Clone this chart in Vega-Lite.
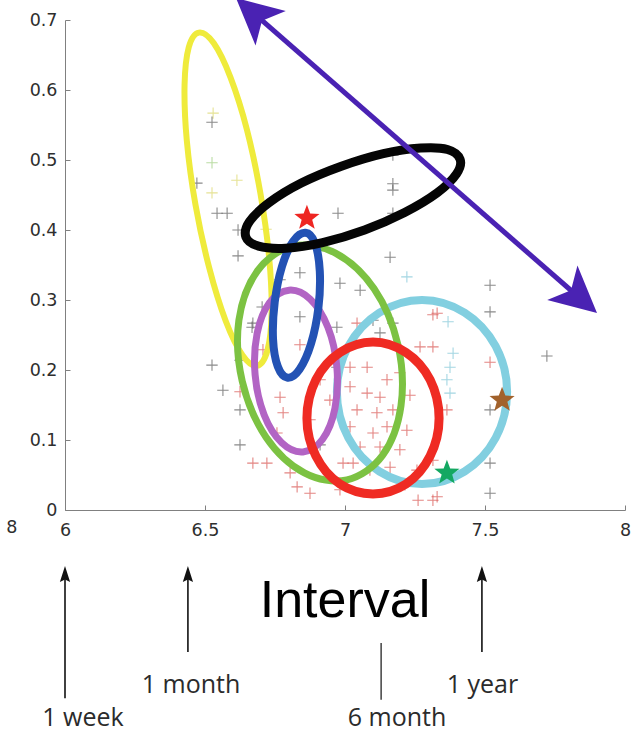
{
  "$schema": "https://vega.github.io/schema/vega-lite/v6.json",
  "autosize": {"type": "none"},
  "width": 560,
  "height": 490,
  "padding": {"left": 65, "top": 20, "right": 10, "bottom": 228},
  "background": "white",
  "config": {
    "view": {"stroke": null},
    "axis": {
      "grid": false,
      "title": null,
      "domainColor": "#808080",
      "tickColor": "#808080",
      "tickSize": -5,
      "labelFont": "DejaVu Sans",
      "labelFontSize": 17.5,
      "labelColor": "#2e2e2e",
      "labelPadding": 13,
      "format": "~g"
    },
    "axisX": {"labelPadding": 16}
  },
  "resolve": {"scale": {"color": "independent"}},
  "datasets": {
    "ellipses": [
      {"e": "yellow", "i": 0, "x": 6.686, "y": 0.206}, {"e": "yellow", "i": 1, "x": 6.723, "y": 0.228},
      {"e": "yellow", "i": 2, "x": 6.738, "y": 0.282}, {"e": "yellow", "i": 3, "x": 6.729, "y": 0.361},
      {"e": "yellow", "i": 4, "x": 6.698, "y": 0.452}, {"e": "yellow", "i": 5, "x": 6.650, "y": 0.543},
      {"e": "yellow", "i": 6, "x": 6.591, "y": 0.618}, {"e": "yellow", "i": 7, "x": 6.531, "y": 0.667},
      {"e": "yellow", "i": 8, "x": 6.478, "y": 0.682}, {"e": "yellow", "i": 9, "x": 6.442, "y": 0.661},
      {"e": "yellow", "i": 10, "x": 6.427, "y": 0.607}, {"e": "yellow", "i": 11, "x": 6.435, "y": 0.528},
      {"e": "yellow", "i": 12, "x": 6.466, "y": 0.436}, {"e": "yellow", "i": 13, "x": 6.515, "y": 0.346},
      {"e": "yellow", "i": 14, "x": 6.574, "y": 0.270}, {"e": "yellow", "i": 15, "x": 6.634, "y": 0.221},

      {"e": "cyan", "i": 0, "x": 7.579, "y": 0.169}, {"e": "cyan", "i": 1, "x": 7.538, "y": 0.234},
      {"e": "cyan", "i": 2, "x": 7.427, "y": 0.282}, {"e": "cyan", "i": 3, "x": 7.275, "y": 0.300},
      {"e": "cyan", "i": 4, "x": 7.123, "y": 0.282}, {"e": "cyan", "i": 5, "x": 7.012, "y": 0.234},
      {"e": "cyan", "i": 6, "x": 6.971, "y": 0.169}, {"e": "cyan", "i": 7, "x": 7.012, "y": 0.103},
      {"e": "cyan", "i": 8, "x": 7.123, "y": 0.055}, {"e": "cyan", "i": 9, "x": 7.275, "y": 0.037},
      {"e": "cyan", "i": 10, "x": 7.427, "y": 0.055}, {"e": "cyan", "i": 11, "x": 7.538, "y": 0.103},

      {"e": "purple", "i": 0, "x": 6.850, "y": 0.083}, {"e": "purple", "i": 1, "x": 6.920, "y": 0.101},
      {"e": "purple", "i": 2, "x": 6.964, "y": 0.145}, {"e": "purple", "i": 3, "x": 6.971, "y": 0.204},
      {"e": "purple", "i": 4, "x": 6.939, "y": 0.261}, {"e": "purple", "i": 5, "x": 6.876, "y": 0.301},
      {"e": "purple", "i": 6, "x": 6.800, "y": 0.314}, {"e": "purple", "i": 7, "x": 6.730, "y": 0.296},
      {"e": "purple", "i": 8, "x": 6.686, "y": 0.252}, {"e": "purple", "i": 9, "x": 6.679, "y": 0.193},
      {"e": "purple", "i": 10, "x": 6.711, "y": 0.136}, {"e": "purple", "i": 11, "x": 6.774, "y": 0.096},

      {"e": "green", "i": 0, "x": 7.007, "y": 0.043}, {"e": "green", "i": 1, "x": 7.134, "y": 0.078},
      {"e": "green", "i": 2, "x": 7.200, "y": 0.149}, {"e": "green", "i": 3, "x": 7.189, "y": 0.236},
      {"e": "green", "i": 4, "x": 7.104, "y": 0.316}, {"e": "green", "i": 5, "x": 6.966, "y": 0.367},
      {"e": "green", "i": 6, "x": 6.814, "y": 0.377}, {"e": "green", "i": 7, "x": 6.688, "y": 0.342},
      {"e": "green", "i": 8, "x": 6.621, "y": 0.271}, {"e": "green", "i": 9, "x": 6.633, "y": 0.184},
      {"e": "green", "i": 10, "x": 6.718, "y": 0.104}, {"e": "green", "i": 11, "x": 6.855, "y": 0.053},

      {"e": "blue", "i": 0, "x": 6.795, "y": 0.189}, {"e": "blue", "i": 1, "x": 6.838, "y": 0.201},
      {"e": "blue", "i": 2, "x": 6.879, "y": 0.238}, {"e": "blue", "i": 3, "x": 6.905, "y": 0.289},
      {"e": "blue", "i": 4, "x": 6.910, "y": 0.341}, {"e": "blue", "i": 5, "x": 6.893, "y": 0.381},
      {"e": "blue", "i": 6, "x": 6.859, "y": 0.396}, {"e": "blue", "i": 7, "x": 6.815, "y": 0.384},
      {"e": "blue", "i": 8, "x": 6.775, "y": 0.348}, {"e": "blue", "i": 9, "x": 6.749, "y": 0.297},
      {"e": "blue", "i": 10, "x": 6.743, "y": 0.244}, {"e": "blue", "i": 11, "x": 6.760, "y": 0.205},

      {"e": "red", "i": 0, "x": 7.336, "y": 0.131}, {"e": "red", "i": 1, "x": 7.304, "y": 0.186},
      {"e": "red", "i": 2, "x": 7.218, "y": 0.225}, {"e": "red", "i": 3, "x": 7.100, "y": 0.240},
      {"e": "red", "i": 4, "x": 6.982, "y": 0.225}, {"e": "red", "i": 5, "x": 6.896, "y": 0.186},
      {"e": "red", "i": 6, "x": 6.864, "y": 0.131}, {"e": "red", "i": 7, "x": 6.896, "y": 0.077},
      {"e": "red", "i": 8, "x": 6.982, "y": 0.037}, {"e": "red", "i": 9, "x": 7.100, "y": 0.023},
      {"e": "red", "i": 10, "x": 7.218, "y": 0.037}, {"e": "red", "i": 11, "x": 7.304, "y": 0.077},

      {"e": "black", "i": 0, "x": 7.411, "y": 0.501}, {"e": "black", "i": 1, "x": 7.398, "y": 0.480},
      {"e": "black", "i": 2, "x": 7.329, "y": 0.453}, {"e": "black", "i": 3, "x": 7.213, "y": 0.425},
      {"e": "black", "i": 4, "x": 7.070, "y": 0.400}, {"e": "black", "i": 5, "x": 6.920, "y": 0.382},
      {"e": "black", "i": 6, "x": 6.788, "y": 0.374}, {"e": "black", "i": 7, "x": 6.691, "y": 0.377},
      {"e": "black", "i": 8, "x": 6.646, "y": 0.390}, {"e": "black", "i": 9, "x": 6.659, "y": 0.412},
      {"e": "black", "i": 10, "x": 6.729, "y": 0.439}, {"e": "black", "i": 11, "x": 6.844, "y": 0.467},
      {"e": "black", "i": 12, "x": 6.987, "y": 0.491}, {"e": "black", "i": 13, "x": 7.137, "y": 0.509},
      {"e": "black", "i": 14, "x": 7.270, "y": 0.517}, {"e": "black", "i": 15, "x": 7.366, "y": 0.515}
    ],
    "samples": [
      {"x": 6.529, "y": 0.567, "c": "y"}, {"x": 6.525, "y": 0.554, "c": "k"}, {"x": 6.525, "y": 0.496, "c": "g"},
      {"x": 6.471, "y": 0.467, "c": "k"}, {"x": 6.614, "y": 0.471, "c": "y"}, {"x": 6.525, "y": 0.453, "c": "y"},
      {"x": 6.543, "y": 0.424, "c": "k"}, {"x": 6.579, "y": 0.424, "c": "k"}, {"x": 6.618, "y": 0.400, "c": "k"},
      {"x": 6.718, "y": 0.401, "c": "y"}, {"x": 6.975, "y": 0.424, "c": "k"}, {"x": 6.618, "y": 0.363, "c": "k"},
      {"x": 7.171, "y": 0.507, "c": "k"}, {"x": 7.171, "y": 0.466, "c": "k"}, {"x": 7.171, "y": 0.457, "c": "k"},
      {"x": 7.171, "y": 0.424, "c": "k"}, {"x": 7.161, "y": 0.361, "c": "k"}, {"x": 7.221, "y": 0.333, "c": "c"},
      {"x": 7.518, "y": 0.321, "c": "k"}, {"x": 7.329, "y": 0.281, "c": "r"}, {"x": 6.839, "y": 0.339, "c": "k"},
      {"x": 6.982, "y": 0.324, "c": "k"}, {"x": 6.768, "y": 0.329, "c": "k"}, {"x": 7.054, "y": 0.314, "c": "k"},
      {"x": 6.704, "y": 0.290, "c": "k"}, {"x": 6.671, "y": 0.267, "c": "k"}, {"x": 6.839, "y": 0.276, "c": "k"},
      {"x": 6.971, "y": 0.261, "c": "k"}, {"x": 7.043, "y": 0.267, "c": "r"}, {"x": 7.100, "y": 0.271, "c": "k"},
      {"x": 7.125, "y": 0.253, "c": "k"}, {"x": 7.171, "y": 0.267, "c": "k"}, {"x": 7.314, "y": 0.279, "c": "r"},
      {"x": 7.368, "y": 0.269, "c": "c"}, {"x": 7.268, "y": 0.233, "c": "r"}, {"x": 7.314, "y": 0.233, "c": "r"},
      {"x": 7.386, "y": 0.224, "c": "c"}, {"x": 7.375, "y": 0.204, "c": "c"}, {"x": 7.364, "y": 0.186, "c": "c"},
      {"x": 7.375, "y": 0.167, "c": "c"}, {"x": 7.364, "y": 0.143, "c": "r"}, {"x": 7.518, "y": 0.283, "c": "k"},
      {"x": 7.518, "y": 0.211, "c": "r"}, {"x": 7.518, "y": 0.143, "c": "k"}, {"x": 7.518, "y": 0.067, "c": "k"},
      {"x": 7.518, "y": 0.024, "c": "k"}, {"x": 7.721, "y": 0.220, "c": "k"}, {"x": 7.329, "y": 0.019, "c": "r"},
      {"x": 7.018, "y": 0.204, "c": "r"}, {"x": 7.079, "y": 0.204, "c": "r"}, {"x": 7.150, "y": 0.186, "c": "r"},
      {"x": 7.196, "y": 0.196, "c": "r"}, {"x": 7.018, "y": 0.176, "c": "r"}, {"x": 7.079, "y": 0.167, "c": "r"},
      {"x": 7.125, "y": 0.161, "c": "r"}, {"x": 7.043, "y": 0.143, "c": "r"}, {"x": 7.114, "y": 0.139, "c": "r"},
      {"x": 7.171, "y": 0.143, "c": "r"}, {"x": 7.018, "y": 0.119, "c": "r"}, {"x": 7.100, "y": 0.110, "c": "r"},
      {"x": 7.150, "y": 0.119, "c": "r"}, {"x": 7.221, "y": 0.114, "c": "r"}, {"x": 7.054, "y": 0.090, "c": "r"},
      {"x": 7.125, "y": 0.090, "c": "r"}, {"x": 7.196, "y": 0.086, "c": "r"}, {"x": 7.029, "y": 0.067, "c": "r"},
      {"x": 7.089, "y": 0.057, "c": "r"}, {"x": 7.161, "y": 0.061, "c": "r"}, {"x": 7.257, "y": 0.057, "c": "r"},
      {"x": 7.314, "y": 0.071, "c": "r"}, {"x": 6.946, "y": 0.157, "c": "r"}, {"x": 6.971, "y": 0.204, "c": "k"},
      {"x": 6.911, "y": 0.186, "c": "r"}, {"x": 7.232, "y": 0.164, "c": "r"}, {"x": 6.564, "y": 0.171, "c": "k"},
      {"x": 6.625, "y": 0.169, "c": "r"}, {"x": 6.625, "y": 0.214, "c": "k"}, {"x": 6.625, "y": 0.143, "c": "k"},
      {"x": 6.625, "y": 0.093, "c": "k"}, {"x": 6.671, "y": 0.067, "c": "r"}, {"x": 6.721, "y": 0.067, "c": "r"},
      {"x": 6.768, "y": 0.161, "c": "r"}, {"x": 6.779, "y": 0.139, "c": "r"}, {"x": 6.757, "y": 0.110, "c": "r"},
      {"x": 6.804, "y": 0.053, "c": "r"}, {"x": 6.829, "y": 0.033, "c": "r"}, {"x": 6.875, "y": 0.024, "c": "r"},
      {"x": 6.993, "y": 0.067, "c": "r"}, {"x": 7.314, "y": 0.014, "c": "r"}, {"x": 6.525, "y": 0.207, "c": "k"},
      {"x": 6.668, "y": 0.261, "c": "k"}, {"x": 6.707, "y": 0.229, "c": "r"}, {"x": 6.839, "y": 0.236, "c": "r"},
      {"x": 6.875, "y": 0.129, "c": "r"}, {"x": 6.911, "y": 0.093, "c": "k"}, {"x": 6.982, "y": 0.029, "c": "r"},
      {"x": 7.214, "y": 0.036, "c": "r"}, {"x": 7.261, "y": 0.014, "c": "r"}
    ],
    "stars": [
      {"x": 6.864, "y": 0.417, "s": "red"},
      {"x": 7.364, "y": 0.053, "s": "green"},
      {"x": 7.561, "y": 0.157, "s": "brown"}
    ],
    "span": [{"x": 6.679, "y": 0.708, "x2": 7.832, "y2": 0.305}],
    "spanStart": [{"x": 6.6107, "y": 0.7314}],
    "spanEnd": [{"x": 7.9, "y": 0.2814}],
    "markers": [
      {"x": 6.0, "y": -0.088, "y2": -0.269},
      {"x": 6.439, "y": -0.088, "y2": -0.203},
      {"x": 7.489, "y": -0.088, "y2": -0.203}
    ],
    "markerTips": [
      {"x": 6.0, "y": -0.08},
      {"x": 6.439, "y": -0.08},
      {"x": 7.489, "y": -0.08}
    ],
    "sixMonth": [{"x": 7.129, "y": -0.19, "y2": -0.271}],
    "notes": [
      {"x": 6.064, "y": -0.309, "t": "1 week"},
      {"x": 6.45, "y": -0.262, "t": "1 month"},
      {"x": 7.186, "y": -0.309, "t": "6 month"},
      {"x": 7.491, "y": -0.262, "t": "1 year"}
    ],
    "heading": [{"x": 7.0, "y": -0.153, "t": "Interval"}],
    "stray": [{"x": 5.81, "y": -0.026, "t": "8"}]
  },
  "layer": [
    {
      "data": {"name": "samples"},
      "mark": {"type": "point", "shape": "M-1,0L1,0M0,-1L0,1", "filled": false, "size": 130, "strokeWidth": 1.1, "opacity": 0.7, "clip": false},
      "encoding": {
        "x": {"field": "x", "type": "quantitative", "scale": {"domain": [6, 8], "nice": false, "zero": false},
          "axis": {"values": [6, 6.5, 7, 7.5, 8], "labelFlush": false, "orient": "bottom"}},
        "y": {"field": "y", "type": "quantitative", "scale": {"domain": [0, 0.7], "nice": false, "zero": false},
          "axis": {"values": [0, 0.1, 0.2, 0.3, 0.4, 0.5, 0.6, 0.7], "orient": "left"}},
        "color": {"field": "c", "type": "nominal", "legend": null,
          "scale": {"domain": ["k", "r", "c", "g", "y"], "range": ["#5a5a5a", "#d9534f", "#7fc6d8", "#9fcf7f", "#dcd86a"]}}
      }
    },
    {
      "data": {"name": "ellipses"},
      "transform": [{"filter": "datum.e === 'yellow'"}],
      "mark": {"type": "line", "interpolate": "cardinal-closed", "color": "#efeb3c", "strokeWidth": 6, "clip": false},
      "encoding": {"x": {"field": "x", "type": "quantitative"}, "y": {"field": "y", "type": "quantitative"}, "order": {"field": "i", "type": "quantitative"}}
    },
    {
      "data": {"name": "ellipses"},
      "transform": [{"filter": "datum.e === 'cyan'"}],
      "mark": {"type": "line", "interpolate": "cardinal-closed", "color": "#82cfe0", "strokeWidth": 8, "clip": false},
      "encoding": {"x": {"field": "x", "type": "quantitative"}, "y": {"field": "y", "type": "quantitative"}, "order": {"field": "i", "type": "quantitative"}}
    },
    {
      "data": {"name": "ellipses"},
      "transform": [{"filter": "datum.e === 'purple'"}],
      "mark": {"type": "line", "interpolate": "cardinal-closed", "color": "#b264c4", "strokeWidth": 7, "clip": false},
      "encoding": {"x": {"field": "x", "type": "quantitative"}, "y": {"field": "y", "type": "quantitative"}, "order": {"field": "i", "type": "quantitative"}}
    },
    {
      "data": {"name": "ellipses"},
      "transform": [{"filter": "datum.e === 'green'"}],
      "mark": {"type": "line", "interpolate": "cardinal-closed", "color": "#7cc242", "strokeWidth": 7, "clip": false},
      "encoding": {"x": {"field": "x", "type": "quantitative"}, "y": {"field": "y", "type": "quantitative"}, "order": {"field": "i", "type": "quantitative"}}
    },
    {
      "data": {"name": "ellipses"},
      "transform": [{"filter": "datum.e === 'blue'"}],
      "mark": {"type": "line", "interpolate": "cardinal-closed", "color": "#2352b4", "strokeWidth": 8, "clip": false},
      "encoding": {"x": {"field": "x", "type": "quantitative"}, "y": {"field": "y", "type": "quantitative"}, "order": {"field": "i", "type": "quantitative"}}
    },
    {
      "data": {"name": "ellipses"},
      "transform": [{"filter": "datum.e === 'red'"}],
      "mark": {"type": "line", "interpolate": "cardinal-closed", "color": "#ef2b23", "strokeWidth": 9, "clip": false},
      "encoding": {"x": {"field": "x", "type": "quantitative"}, "y": {"field": "y", "type": "quantitative"}, "order": {"field": "i", "type": "quantitative"}}
    },
    {
      "data": {"name": "ellipses"},
      "transform": [{"filter": "datum.e === 'black'"}],
      "mark": {"type": "line", "interpolate": "cardinal-closed", "color": "#050505", "strokeWidth": 9, "clip": false},
      "encoding": {"x": {"field": "x", "type": "quantitative"}, "y": {"field": "y", "type": "quantitative"}, "order": {"field": "i", "type": "quantitative"}}
    },
    {
      "data": {"name": "stars"},
      "mark": {"type": "point", "shape": "M0,-1L0.247,-0.34L0.951,-0.309L0.399,0.13L0.588,0.809L0,0.42L-0.588,0.809L-0.399,0.13L-0.951,-0.309L-0.247,-0.34Z", "filled": true, "size": 700, "opacity": 1, "clip": false},
      "encoding": {
        "x": {"field": "x", "type": "quantitative"},
        "y": {"field": "y", "type": "quantitative"},
        "color": {"field": "s", "type": "nominal", "legend": null,
          "scale": {"domain": ["red", "green", "brown"], "range": ["#ee2622", "#14a862", "#a2622c"]}}
      }
    },
    {
      "data": {"name": "span"},
      "mark": {"type": "rule", "color": "#4a22b3", "strokeWidth": 5, "clip": false},
      "encoding": {
        "x": {"field": "x", "type": "quantitative"}, "y": {"field": "y", "type": "quantitative"},
        "x2": {"field": "x2"}, "y2": {"field": "y2"}
      }
    },
    {
      "data": {"name": "spanStart"},
      "mark": {"type": "point", "shape": "M0,0L0.5,1L0,0.75L-0.5,1Z", "filled": true, "size": 8464, "angle": 311.1, "color": "#4a22b3", "opacity": 1, "clip": false},
      "encoding": {"x": {"field": "x", "type": "quantitative"}, "y": {"field": "y", "type": "quantitative"}}
    },
    {
      "data": {"name": "spanEnd"},
      "mark": {"type": "point", "shape": "M0,0L0.5,1L0,0.75L-0.5,1Z", "filled": true, "size": 8464, "angle": 131.1, "color": "#4a22b3", "opacity": 1, "clip": false},
      "encoding": {"x": {"field": "x", "type": "quantitative"}, "y": {"field": "y", "type": "quantitative"}}
    },
    {
      "data": {"name": "markers"},
      "mark": {"type": "rule", "color": "#111111", "strokeWidth": 1.6, "clip": false},
      "encoding": {"x": {"field": "x", "type": "quantitative"}, "y": {"field": "y", "type": "quantitative"}, "y2": {"field": "y2"}}
    },
    {
      "data": {"name": "markerTips"},
      "mark": {"type": "point", "shape": "M0,0L0.32,1L0,0.85L-0.32,1Z", "filled": true, "size": 1024, "color": "#111111", "opacity": 1, "clip": false},
      "encoding": {"x": {"field": "x", "type": "quantitative"}, "y": {"field": "y", "type": "quantitative"}}
    },
    {
      "data": {"name": "sixMonth"},
      "mark": {"type": "rule", "color": "#333333", "strokeWidth": 1.4, "clip": false},
      "encoding": {"x": {"field": "x", "type": "quantitative"}, "y": {"field": "y", "type": "quantitative"}, "y2": {"field": "y2"}}
    },
    {
      "data": {"name": "notes"},
      "mark": {"type": "text", "font": "Open Sans", "fontSize": 25, "color": "#2b2b2b", "align": "center", "baseline": "alphabetic", "clip": false},
      "encoding": {"x": {"field": "x", "type": "quantitative"}, "y": {"field": "y", "type": "quantitative"}, "text": {"field": "t"}}
    },
    {
      "data": {"name": "heading"},
      "mark": {"type": "text", "font": "Liberation Sans", "fontSize": 52, "color": "#000000", "align": "center", "baseline": "alphabetic", "clip": false},
      "encoding": {"x": {"field": "x", "type": "quantitative"}, "y": {"field": "y", "type": "quantitative"}, "text": {"field": "t"}}
    },
    {
      "data": {"name": "stray"},
      "mark": {"type": "text", "font": "DejaVu Sans", "fontSize": 17.5, "color": "#2e2e2e", "align": "center", "baseline": "middle", "clip": false},
      "encoding": {"x": {"field": "x", "type": "quantitative"}, "y": {"field": "y", "type": "quantitative"}, "text": {"field": "t"}}
    }
  ]
}
